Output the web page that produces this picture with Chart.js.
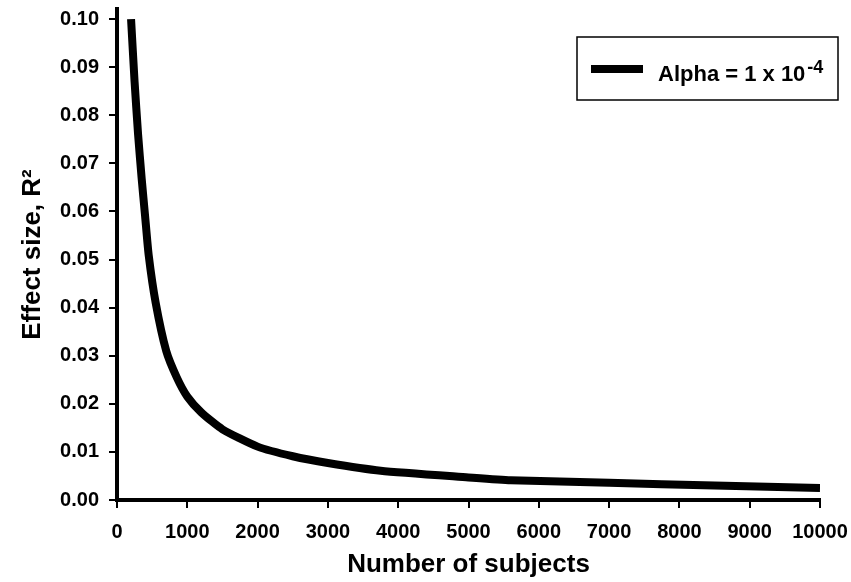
<!DOCTYPE html>
<html>
<head>
<meta charset="utf-8">
<script src="https://cdn.jsdelivr.net/npm/chart.js@4"></script>
<style>
  html, body { margin: 0; padding: 0; background: #fff; }
  #wrap { width: 851px; height: 582px; }
</style>
</head>
<body>
<div id="wrap"><canvas id="effectChart" width="851" height="582"></canvas></div>
<script>
// Number of subjects (x) and the effect size R^2 (y)
const subjects = [200, 250, 300, 350, 400, 450, 550, 700, 850, 1000, 1200, 1500, 2000, 2500, 3000, 3750, 5000, 5600, 7000, 8500, 10000];
const effectSize = [0.100, 0.087, 0.076, 0.067, 0.059, 0.051, 0.041, 0.031, 0.0255, 0.0215, 0.0182, 0.0147, 0.0111, 0.0091, 0.0077, 0.0061, 0.0047, 0.0041, 0.0036, 0.0030, 0.0025];
const xTicks = [0, 1000, 2000, 3000, 4000, 5000, 6000, 7000, 8000, 9000, 10000];
const yTicks = [0, 0.01, 0.02, 0.03, 0.04, 0.05, 0.06, 0.07, 0.08, 0.09, 0.10];
const seriesLabel = 'Alpha = 1 x 10';
const seriesLabelSup = '-4';

const FONT = '"Liberation Sans", Arial, sans-serif';

// legend drawn as a framed box inside the plot, with the superscript exponent
const boxLegend = {
    id: 'boxLegend',
    afterDraw(chart) {
        const ctx = chart.ctx;
        ctx.save();
        ctx.strokeStyle = '#000';
        ctx.lineWidth = 1.5;
        ctx.strokeRect(577, 37, 261, 63);

        ctx.lineWidth = 8;
        ctx.beginPath();
        ctx.moveTo(591, 69);
        ctx.lineTo(643, 69);
        ctx.stroke();

        ctx.fillStyle = '#000';
        ctx.textBaseline = 'alphabetic';
        ctx.font = 'bold 22px ' + FONT;
        ctx.fillText(seriesLabel, 658, 81);
        const w = ctx.measureText(seriesLabel).width;
        ctx.font = 'bold 18px ' + FONT;
        ctx.fillText(seriesLabelSup, 658 + w + 2, 73);
        ctx.restore();
    }
};

const ctx = document.getElementById('effectChart').getContext('2d');
new Chart(ctx, {
    type: 'line',
    data: {
        datasets: [{
            label: seriesLabel + seriesLabelSup,
            data: subjects.map((n, i) => ({ x: n, y: effectSize[i] })),
            borderColor: '#000',
            borderWidth: 8,
            borderCapStyle: 'butt',
            borderJoinStyle: 'round',
            pointRadius: 0,
            tension: 0.2,
            fill: false
        }]
    },
    options: {
        responsive: false,
        animation: false,
        layout: { padding: { top: 9, right: 31, left: 0, bottom: 0 } },
        plugins: {
            legend: { display: false },
            tooltip: { enabled: false }
        },
        scales: {
            x: {
                type: 'linear',
                min: 0,
                max: 10000,
                afterFit: s => { s.height = 82; s.paddingLeft = 0; s.paddingRight = 0; },
                afterBuildTicks: s => { s.ticks = xTicks.map(v => ({ value: v })); },
                ticks: {
                    color: '#000',
                    font: { family: FONT, size: 20, weight: 'bold' },
                    padding: 12,
                    maxRotation: 0,
                    callback: v => String(v)
                },
                grid: { drawOnChartArea: false, drawTicks: true, tickLength: 8, color: '#000', lineWidth: 2 },
                border: { display: true, color: '#000', width: 4 },
                title: {
                    display: true,
                    text: 'Number of subjects',
                    color: '#000',
                    font: { family: FONT, size: 26, weight: 'bold' },
                    padding: { top: 0, bottom: 2 }
                }
            },
            y: {
                min: 0,
                max: 0.1021,
                afterFit: s => { s.width = 117; s.paddingTop = 0; s.paddingBottom = 0; },
                afterBuildTicks: s => { s.ticks = yTicks.map(v => ({ value: v })); },
                ticks: {
                    color: '#000',
                    font: { family: FONT, size: 20, weight: 'bold' },
                    padding: 10,
                    callback: v => v.toFixed(2)
                },
                grid: { drawOnChartArea: false, drawTicks: true, tickLength: 8, color: '#000', lineWidth: 2 },
                border: { display: true, color: '#000', width: 4 },
                title: {
                    display: true,
                    text: 'Effect size, R²',
                    color: '#000',
                    font: { family: FONT, size: 26, weight: 'bold' },
                    padding: { top: 17, bottom: 0 }
                }
            }
        }
    },
    plugins: [boxLegend]
});
</script>
</body>
</html>
